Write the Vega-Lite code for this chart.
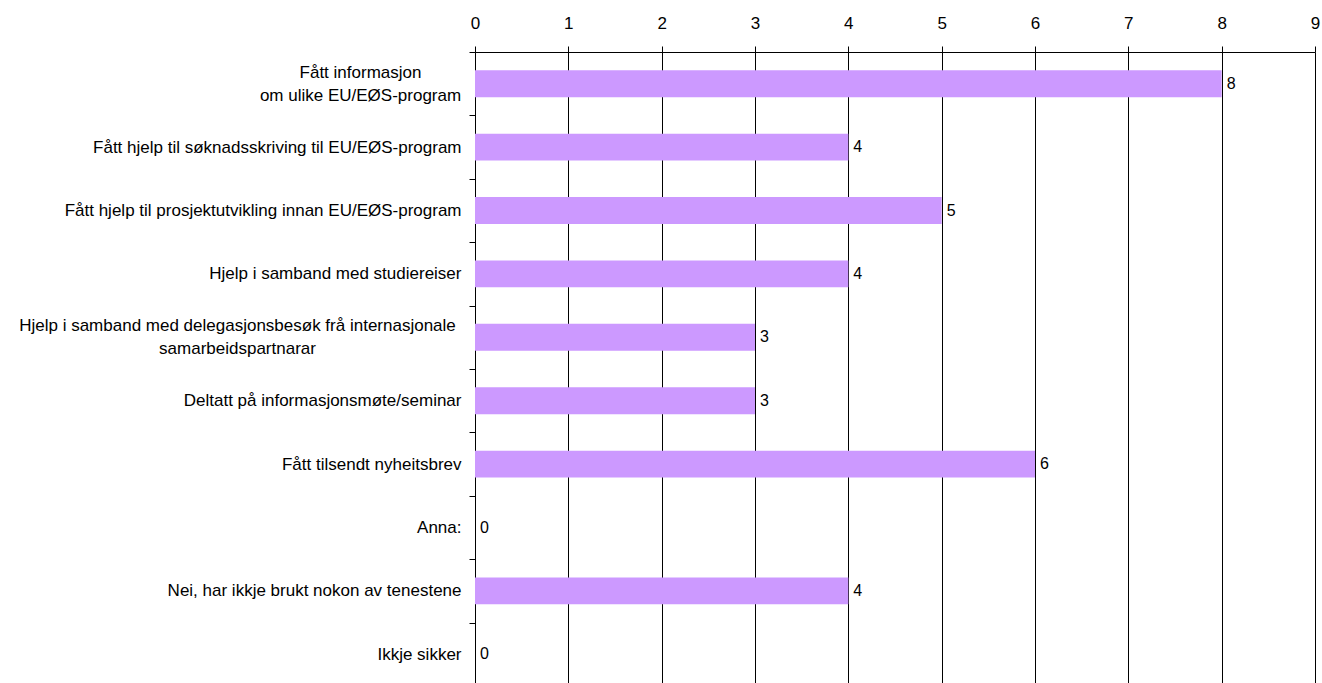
{
  "$schema": "https://vega.github.io/schema/vega-lite/v6.json",
  "autosize": "none",
  "width": 840,
  "height": 634,
  "padding": {"left": 475, "top": 52, "right": 7, "bottom": 0},
  "background": "white",
  "config": {
    "view": {"stroke": null},
    "font": "Liberation Sans",
    "axis": {"labelFont": "Liberation Sans", "labelColor": "#000"}
  },
  "data": {
    "values": [
      {"kategori": "Fått informasjon|om ulike EU/EØS-program", "antal": 8},
      {"kategori": "Fått hjelp til søknadsskriving  til EU/EØS-program", "antal": 4},
      {"kategori": "Fått hjelp til prosjektutvikling innan EU/EØS-program", "antal": 5},
      {"kategori": "Hjelp i samband med studiereiser", "antal": 4},
      {"kategori": "Hjelp i samband med delegasjonsbesøk frå internasjonale|samarbeidspartnarar", "antal": 3},
      {"kategori": "Deltatt på informasjonsmøte/seminar", "antal": 3},
      {"kategori": "Fått tilsendt nyheitsbrev", "antal": 6},
      {"kategori": "Anna:", "antal": 0},
      {"kategori": "Nei, har ikkje brukt nokon av tenestene", "antal": 4},
      {"kategori": "Ikkje sikker", "antal": 0}
    ]
  },
  "encoding": {
    "y": {
      "field": "kategori",
      "type": "nominal",
      "sort": null,
      "scale": {"paddingInner": 0, "paddingOuter": 0},
      "axis": {
        "title": null,
        "orient": "left",
        "domainColor": "#000",
        "domainWidth": 1,
        "tickColor": "#000",
        "tickSize": 6,
        "tickBand": "extent",
        "labelFontSize": 17,
        "labelLimit": 0,
        "labelLineHeight": 23,
        "labelExpr": "isString(datum.value) ? split(datum.value, '|') : ''",
        "labelAlign": {
          "condition": {"test": "isString(datum.value) && indexof(datum.value, '|') >= 0", "value": "center"},
          "value": "right"
        },
        "labelOffset": {
          "condition": {"test": "isString(datum.value) && indexof(datum.value, '|') >= 0", "value": -11.5},
          "value": 0
        },
        "labelPadding": {
          "condition": [
            {"test": "isString(datum.value) && indexof(datum.value, 'Fått informasjon') >= 0", "value": 109},
            {"test": "isString(datum.value) && indexof(datum.value, 'delegasjons') >= 0", "value": 232}
          ],
          "value": 8
        },
        "grid": false
      }
    }
  },
  "layer": [
    {
      "mark": {"type": "bar", "color": "#CC99FF", "height": {"band": 0.425}},
      "encoding": {
        "x": {
          "field": "antal",
          "type": "quantitative",
          "scale": {"domain": [0, 9], "nice": false},
          "axis": {
            "title": null,
            "orient": "top",
            "values": [0, 1, 2, 3, 4, 5, 6, 7, 8, 9],
            "format": "d",
            "grid": true,
            "gridColor": "#000",
            "gridWidth": 1,
            "gridOpacity": 1,
            "domainColor": "#000",
            "tickColor": "#000",
            "tickSize": 6,
            "labelFontSize": 17,
            "labelPadding": 14,
            "labelFlush": false
          }
        }
      }
    },
    {
      "mark": {"type": "text", "align": "left", "baseline": "middle", "dx": 5, "fontSize": 16, "color": "#000", "font": "Liberation Sans"},
      "encoding": {
        "x": {"field": "antal", "type": "quantitative"},
        "text": {"field": "antal", "type": "quantitative"}
      }
    }
  ]
}
